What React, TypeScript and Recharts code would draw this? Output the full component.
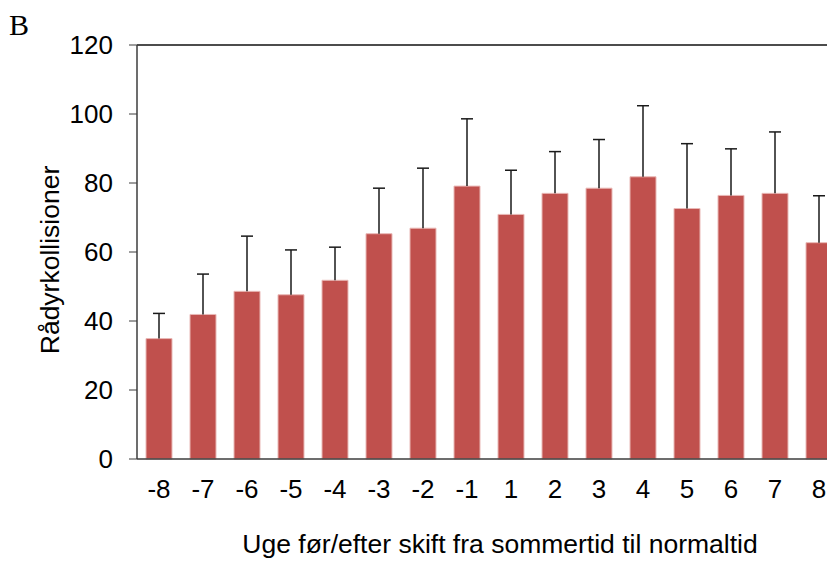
import { Bar, BarChart, Label, ReferenceLine, XAxis, YAxis } from "recharts";

const weeks = ["-8", "-7", "-6", "-5", "-4", "-3", "-2", "-1", "1", "2", "3", "4", "5", "6", "7", "8"];
const collisions = [34.9, 41.9, 48.6, 47.6, 51.8, 65.3, 66.9, 79.1, 70.9, 77.0, 78.5, 81.8, 72.6, 76.4, 77.0, 62.7];
const errors = [7.3, 11.7, 16.0, 13.0, 9.6, 13.2, 17.4, 19.5, 12.8, 12.1, 14.1, 20.6, 18.8, 13.5, 17.8, 13.6];
const yTicks = [0, 20, 40, 60, 80, 100, 120];
// band edges for the excel-style tick marks between categories
const bandEdges = [...weeks.map((_, i) => i), weeks.length];

const FONT = "'Liberation Sans', Arial, sans-serif";
const AXIS = "#3c3c3c";

const data = weeks.map((week, i) => ({ week, value: collisions[i], err: errors[i] }));

// upward-only error bar drawn inside the stacked segment the library places
function ErrorWhisker(props: any) {
  const { x, y, width, height } = props;
  const cx = x + width / 2;
  return (
    <g>
      <line x1={cx} x2={cx} y1={y} y2={y + height} stroke="#1a1a1a" strokeWidth={1.5} />
      <line x1={cx - 6} x2={cx + 6} y1={y} y2={y} stroke="#1a1a1a" strokeWidth={1.5} />
    </g>
  );
}

export default function App() {
  return (
    <div
      style={{
        position: "absolute",
        left: 0,
        top: 0,
        width: 827,
        height: 561,
        overflow: "hidden",
        background: "#fff",
      }}
    >
      <div
        style={{
          position: "absolute",
          left: 9,
          top: 10,
          fontFamily: "'Liberation Serif', 'Times New Roman', serif",
          fontSize: 30,
          lineHeight: 1,
        }}
      >
        B
      </div>
      <BarChart
        width={850}
        height={561}
        data={data}
        margin={{ top: 45, right: 9, left: 0, bottom: 0 }}
        barSize={26}
      >
        <XAxis
          xAxisId="edges"
          type="number"
          domain={[0, weeks.length]}
          ticks={bandEdges}
          tickFormatter={() => ""}
          tickSize={6}
          height={0}
          axisLine={false}
          tickLine={{ stroke: AXIS }}
          allowDataOverflow
        />
        <XAxis
          xAxisId="cat"
          dataKey="week"
          height={102}
          tickLine={false}
          tickSize={6}
          tickMargin={15}
          axisLine={{ stroke: AXIS, strokeWidth: 1.5 }}
          tick={{ fontSize: 26, fill: "#000", fontFamily: FONT }}
          interval={0}
        >
          <Label
            value="Uge før/efter skift fra sommertid til normaltid"
            position="insideBottom"
            offset={8}
            dx={11}
            style={{ fontSize: 26.5, fill: "#000", fontFamily: FONT }}
          />
        </XAxis>
        <YAxis
          domain={[0, 120]}
          ticks={yTicks}
          width={137}
          tickSize={8}
          tickMargin={16}
          axisLine={{ stroke: AXIS, strokeWidth: 1.5 }}
          tickLine={{ stroke: AXIS }}
          tick={{ fontSize: 26, fill: "#000", fontFamily: FONT }}
        >
          <Label
            value="Rådyrkollisioner"
            angle={-90}
            position="center"
            dx={-19}
            dy={8}
            style={{ fontSize: 26.5, fill: "#000", fontFamily: FONT }}
          />
        </YAxis>
        <ReferenceLine xAxisId="cat" y={120} stroke="#111" strokeWidth={1.5} />
        <Bar
          xAxisId="cat"
          dataKey="value"
          stackId="a"
          fill="#C0504D"
          stroke="#e9b8b6"
          strokeWidth={1}
          isAnimationActive={false}
        />
        <Bar
          xAxisId="cat"
          dataKey="err"
          stackId="a"
          shape={<ErrorWhisker />}
          isAnimationActive={false}
        />
      </BarChart>
    </div>
  );
}
